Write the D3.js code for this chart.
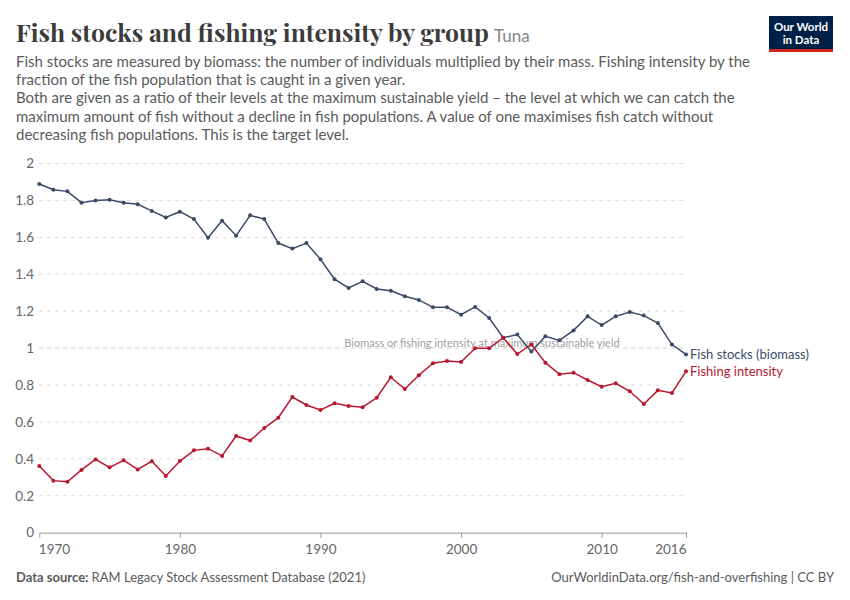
<!DOCTYPE html>
<html><head><meta charset="utf-8">
<script src="https://cdn.jsdelivr.net/npm/d3@7"></script>
<style>body{margin:0;background:#fff;} svg{display:block;}</style>
</head><body>
<svg id="c" width="850" height="600"></svg>
<script>
const years = d3.range(1970, 2017);
const fishStocks = [1.889,1.858,1.849,1.788,1.799,1.804,1.788,1.779,1.743,1.708,
  1.739,1.699,1.598,1.690,1.609,1.719,1.699,1.569,1.539,1.569,
  1.481,1.373,1.326,1.362,1.320,1.311,1.281,1.261,1.221,1.221,
  1.181,1.223,1.163,1.056,1.073,0.981,1.064,1.042,1.096,1.172,
  1.125,1.172,1.196,1.176,1.136,1.019,0.966];
const fishingIntensity = [0.361,0.282,0.276,0.340,0.397,0.354,0.392,0.343,0.387,0.307,
  0.388,0.446,0.455,0.416,0.524,0.499,0.567,0.623,0.735,0.692,
  0.665,0.701,0.686,0.680,0.731,0.842,0.778,0.853,0.918,0.930,
  0.925,0.999,0.999,1.056,0.968,1.020,0.921,0.858,0.867,0.827,
  0.791,0.809,0.766,0.697,0.771,0.757,0.874];
const yTicks = [0,0.2,0.4,0.6,0.8,1,1.2,1.4,1.6,1.8,2];
const xTicks = [1970,1980,1990,2000,2010,2016];
const seriesNames = ["Fish stocks (biomass)","Fishing intensity"];
const colors = ["#3b4b67","#b8172f"];

const svg = d3.select("#c");
const x = d3.scaleLinear().domain([1970,2016]).range([39.3,686]);
const y = d3.scaleLinear().domain([0,2]).range([532.7,163.5]);

// Header
const title = svg.append("text").attr("x",16).attr("y",42)
  .attr("font-family","'Playfair Display','DejaVu Serif',serif").attr("font-size",24)
  .attr("font-weight","bold").attr("fill","#3b3b3b");
title.append("tspan").text("Fish stocks and fishing intensity by group")
  .attr("textLength",473).attr("lengthAdjust","spacingAndGlyphs");
svg.append("text").attr("x",494).attr("y",42).text("Tuna")
  .attr("font-family","Lato,sans-serif").attr("font-size",17).attr("fill","#858585");

const sub = ["Fish stocks are measured by biomass: the number of individuals multiplied by their mass. Fishing intensity by the",
"fraction of the fish population that is caught in a given year.",
"Both are given as a ratio of their levels at the maximum sustainable yield – the level at which we can catch the",
"maximum amount of fish without a decline in fish populations. A value of one maximises fish catch without",
"decreasing fish populations. This is the target level."];
svg.append("g").selectAll("text").data(sub).join("text")
  .attr("x",16).attr("y",(d,i)=>67+i*18.2).text(d=>d)
  .attr("font-family","Lato,sans-serif").attr("font-size",15).attr("fill","#5b5b5b");

// Logo
svg.append("rect").attr("x",769).attr("y",16).attr("width",64).attr("height",36).attr("fill","#002147");
svg.append("rect").attr("x",769).attr("y",49).attr("width",64).attr("height",3).attr("fill","#ce261e");
svg.append("text").attr("x",801).attr("y",31).attr("text-anchor","middle").text("Our World")
  .attr("font-family","Lato,sans-serif").attr("font-weight","bold").attr("font-size",11.5).attr("fill","#fff");
svg.append("text").attr("x",801).attr("y",44).attr("text-anchor","middle").text("in Data")
  .attr("font-family","Lato,sans-serif").attr("font-weight","bold").attr("font-size",11.5).attr("fill","#fff");

// Grid
svg.append("g").selectAll("line").data(yTicks.filter(d=>d>0)).join("line")
  .attr("x1",39).attr("x2",686).attr("y1",d=>y(d)).attr("y2",d=>y(d))
  .attr("stroke",d=>d===1?"#d0d0d0":"#dddddd").attr("stroke-width",1).attr("stroke-dasharray","4,4");
svg.append("g").selectAll("text").data(yTicks).join("text")
  .attr("x",34).attr("y",d=>y(d)).attr("dy","0.35em").attr("text-anchor","end")
  .text(d=>d3.format("~g")(d))
  .attr("font-family","Lato,sans-serif").attr("font-size",13.5).attr("fill","#666");

// x axis
const xa = svg.append("g").attr("transform","translate(0,532.7)")
  .call(d3.axisBottom(x).tickValues(xTicks).tickFormat(d3.format("d")).tickSize(5).tickSizeOuter(0));
xa.select(".domain").attr("stroke","#999");
xa.selectAll(".tick line").attr("stroke","#999");
xa.selectAll(".tick text").attr("font-family","Lato,sans-serif").attr("font-size",13.5).attr("fill","#666")
  .attr("dy","0.95em")
  .attr("text-anchor",d=>d===1970?"start":(d===2016?"end":"middle"))
  .attr("dx",d=>d===1970?-1:0);

// reference label
svg.append("text").attr("x",482).attr("y",y(1)).attr("dy","-0.1em").attr("text-anchor","middle")
  .text("Biomass or fishing intensity at maximum sustainable yield")
  .attr("font-family","Lato,sans-serif").attr("font-size",11).attr("fill","#a0a0a0");

// Lines
const series = [fishStocks, fishingIntensity];
const line = d3.line().x((d,i)=>x(years[i])).y(d=>y(d));
series.forEach((s,k)=>{
  svg.append("path").datum(s).attr("d",line).attr("fill","none")
    .attr("stroke",colors[k]).attr("stroke-width",1.5);
  svg.append("g").selectAll("circle").data(s).join("circle")
    .attr("cx",(d,i)=>x(years[i])).attr("cy",d=>y(d)).attr("r",2).attr("fill",colors[k]);
});
// Series labels
const lastY = [y(fishStocks[fishStocks.length-1]), y(fishingIntensity[fishingIntensity.length-1])];
seriesNames.forEach((n,k)=>{
  svg.append("text").attr("x",690).attr("y",lastY[k]).attr("dy","0.35em").text(n)
    .attr("font-family","Lato,sans-serif").attr("font-size",13).attr("fill",colors[k]);
});

// Footer
const f = svg.append("text").attr("x",16).attr("y",582)
  .attr("font-family","Lato,sans-serif").attr("font-size",13).attr("fill","#5b5b5b");
f.append("tspan").text("Data source: ").attr("font-weight","bold");
f.append("tspan").text("RAM Legacy Stock Assessment Database (2021)");
svg.append("text").attr("x",834).attr("y",582).attr("text-anchor","end")
  .text("OurWorldinData.org/fish-and-overfishing | CC BY")
  .attr("font-family","Lato,sans-serif").attr("font-size",13).attr("fill","#5b5b5b");
</script>
</body></html>
